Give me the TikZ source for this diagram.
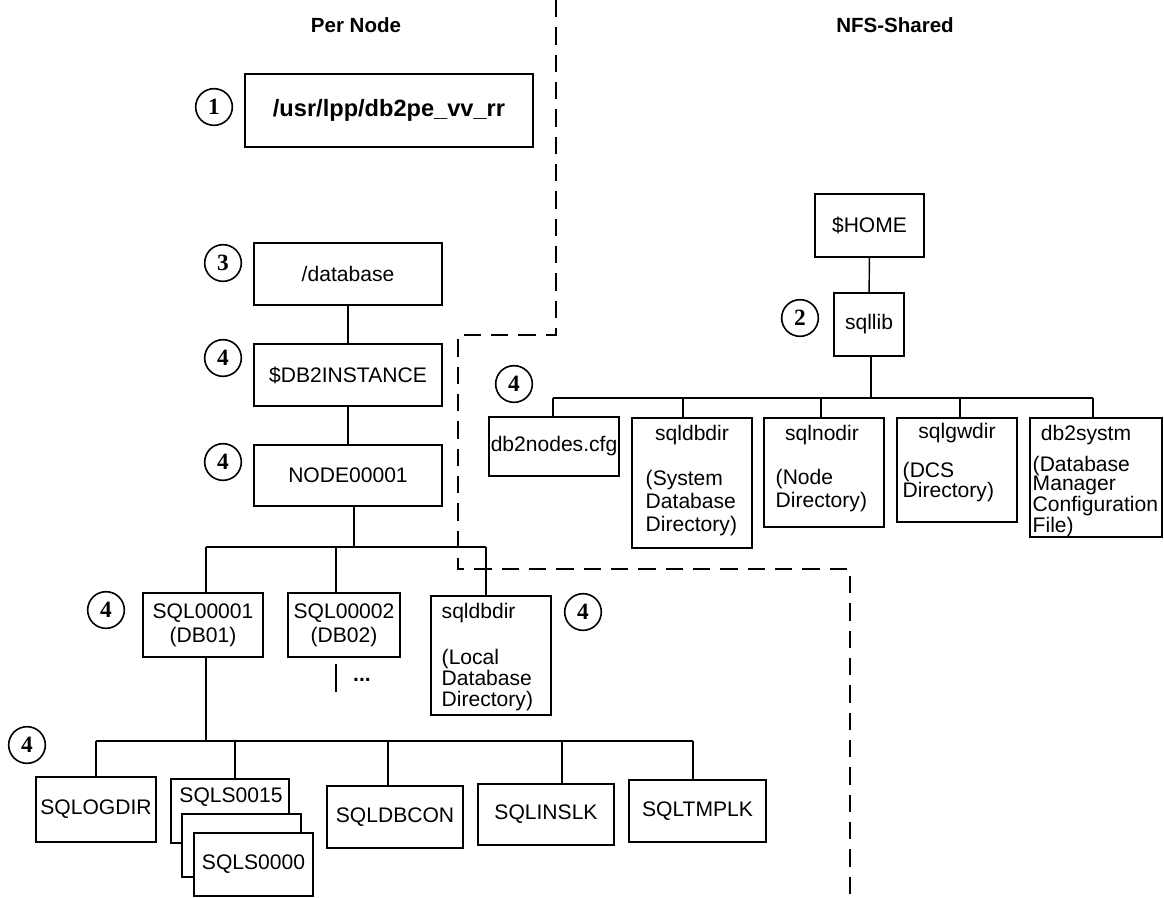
\documentclass[tikz,border=0pt]{standalone}
\usepackage{fontspec}
\setmainfont{Liberation Sans}
\newfontfamily\numfont{Liberation Serif}

\begin{document}
\begin{tikzpicture}[x=0.75pt,y=-0.75pt,
  line width=1.1pt,
  sz/.style 2 args={minimum width=#1*0.75pt, minimum height=#2*0.75pt},
  box/.style={draw, line width=1.1pt, inner sep=0pt, fill=white, font=\fontsize{15.8}{18}\selectfont, align=center},
  rootbox/.style={box, line width=2.2pt, font=\fontsize{17.7}{20}\selectfont\bfseries},
  txt/.style={inner sep=0pt, font=\fontsize{15.8}{17}\selectfont},
  desc/.style={inner sep=0pt, anchor=north west, align=left, font=\fontsize{15.8}{#1}\selectfont},
  desc/.default=17.5pt,
  title/.style={inner sep=0pt, font=\fontsize{15.4}{18}\selectfont\bfseries},
  num/.style={circle, draw, line width=1.2pt, minimum size=27.5pt, inner sep=0pt, font=\numfont\bfseries\fontsize{17.5}{17.5}\selectfont},
  divider/.style={line width=1.1pt, dash pattern=on 13pt off 7.5pt}
]
\useasboundingbox (0,0) rectangle (1164,897);

% column headings
\node (pernode) [title] at (356,25) {Per Node};
\node (nfs) [title] at (895,25) {NFS-Shared};

% boundary between per-node and shared storage
\draw[divider] (556,0) -- (556,335) -- (458,335) -- (458,569) -- (850,569) -- (850,897);

% ---------------- per-node tree ----------------
\node (lpp) [rootbox, sz={288}{73}] at (389,110.5) {/usr/lpp/db2pe\_vv\_rr};
\node (n1) [num] at (214,107) {1};

\node (dbase) [box, sz={188}{62}] at (348,274) {/database};
\node (n3) [num] at (223,263) {3};
\node (inst) [box, sz={188}{62}] at (348,375) {\$DB2INSTANCE};
\node (n4a) [num] at (223,358) {4};
\node (nodedir) [box, sz={188}{61}] at (348,475.5) {NODE00001};
\node (n4b) [num] at (223,462) {4};

\draw (dbase) -- (inst);
\draw (inst) -- (nodedir);

% databases under the node directory
\node (sql1) [box, sz={120}{64}] at (203,625) {SQL00001\\(DB01)};
\node (n4c) [num] at (106,610) {4};
\node (sql2) [box, sz={112}{64}] at (344,625) {SQL00002\\(DB02)};
\node (ldir) [box, sz={120}{119}] at (491,655.5) {};
\node (ldirh) [txt, anchor=west] at (441,613) {sqldbdir};
\node (ldird) [desc=16pt] at (441,648) {(Local\\Database\\Directory)};
\node (n4d) [num] at (583,612) {4};

\coordinate (ba0) at (354,547);
\coordinate (ba1) at (206,547);
\coordinate (ba2) at (336,547);
\coordinate (ba3) at (486,547);
\draw (nodedir.south -| ba0) -- (ba0);
\draw (ba1) -- (ba3);
\draw (ba1) -- (ba1 |- sql1.north);
\draw (ba2) -- (ba2 |- sql2.north);
\draw (ba3) -- (ba3 |- ldir.north);

% further databases
\coordinate (more1) at (336,664);
\coordinate (more2) at (336,692);
\draw (more1) -- (more2);
\node (dots) [txt, font=\fontsize{15.8}{17}\selectfont\bfseries] at (362,680) {...};

% contents of the first database
\node (logdir) [box, sz={120}{65}] at (96,809.5) {SQLOGDIR};
\node (n4e) [num] at (27,745) {4};
\node (ls15) [box, sz={118}{64}] at (230,811) {};
\node (ls15t) [txt] at (231,797) {SQLS0015};
\node (lsmid) [box, sz={119}{63}] at (241.5,845.5) {};
\node (ls00) [box, sz={119}{63}] at (253.5,864.5) {SQLS0000};
\node (dbcon) [box, sz={136}{62}] at (395,817) {SQLDBCON};
\node (inslk) [box, sz={136}{61}] at (546,814.5) {SQLINSLK};
\node (tmplk) [box, sz={137}{62}] at (697.5,811) {SQLTMPLK};

\coordinate (bb0) at (206,741);
\coordinate (bb1) at (96,741);
\coordinate (bb2) at (235,741);
\coordinate (bb3) at (388,741);
\coordinate (bb4) at (562,741);
\coordinate (bb5) at (693,741);
\draw (sql1.south -| bb0) -- (bb0);
\draw (bb1) -- (bb5);
\draw (bb1) -- (bb1 |- logdir.north);
\draw (bb2) -- (bb2 |- ls15.north);
\draw (bb3) -- (bb3 |- dbcon.north);
\draw (bb4) -- (bb4 |- inslk.north);
\draw (bb5) -- (bb5 |- tmplk.north);

% ---------------- shared tree ----------------
\node (home) [box, sz={109}{63}] at (869.5,225.5) {\$HOME};
\node (sqllib) [box, sz={70}{63}] at (869,324.5) {sqllib};
\node (n2) [num] at (800,318) {2};
\draw (home) -- (sqllib);

\node (cfg) [box, sz={130}{59}] at (554,446.5) {db2nodes.cfg};
\node (n4f) [num] at (514,384) {4};
\node (sdir) [box, sz={120}{130}] at (692,483) {};
\node (sdirh) [txt] at (692,435) {sqldbdir};
\node (sdird) [desc=17.5pt] at (645,469) {(System\\Database\\Directory)};
\node (ndir) [box, sz={120}{109}] at (824,472.5) {};
\node (ndirh) [txt] at (822,435) {sqlnodir};
\node (ndird) [desc=17.5pt] at (775,468) {(Node\\Directory)};
\node (gdir) [box, sz={120}{104}] at (957,470) {};
\node (gdirh) [txt] at (957,433) {sqlgwdir};
\node (gdird) [desc=15pt] at (902,461) {(DCS\\Directory)};
\node (sysm) [box, sz={132}{119}] at (1096,477.5) {};
\node (sysmh) [txt] at (1086,435) {db2systm};
\node (sysmd) [desc=14.5pt] at (1032,455) {(Database\\Manager\\Configuration\\File)};

\coordinate (bc0) at (871,398);
\coordinate (bc1) at (553,398);
\coordinate (bc2) at (683,398);
\coordinate (bc3) at (821,398);
\coordinate (bc4) at (960,398);
\coordinate (bc5) at (1093,398);
\draw (sqllib.south -| bc0) -- (bc0);
\draw (bc1) -- (bc5);
\draw (bc1) -- (bc1 |- cfg.north);
\draw (bc2) -- (bc2 |- sdir.north);
\draw (bc3) -- (bc3 |- ndir.north);
\draw (bc4) -- (bc4 |- gdir.north);
\draw (bc5) -- (bc5 |- sysm.north);
\end{tikzpicture}
\end{document}
